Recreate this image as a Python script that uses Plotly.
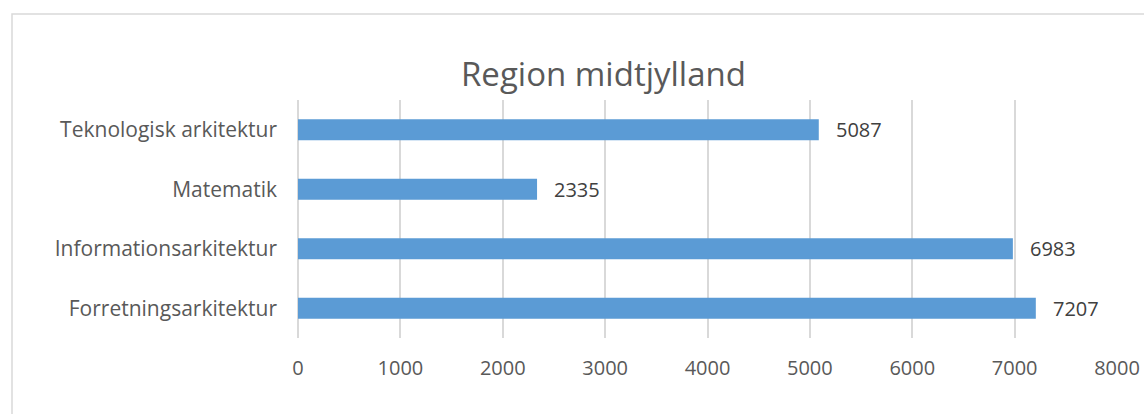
import plotly.graph_objects as go

categories = ["Forretningsarkitektur", "Informationsarkitektur", "Matematik", "Teknologisk arkitektur"]
values = [7207, 6983, 2335, 5087]
x_ticks = [0, 1000, 2000, 3000, 4000, 5000, 6000, 7000, 8000]
title_text = "Region midtjylland"

FONT = "Open Sans"
fig = go.Figure()
fig.add_trace(go.Bar(
    x=values, y=categories, orientation="h",
    marker=dict(color="#5b9bd5", line=dict(color="#5b9bd5", width=0)),
    width=0.35, hoverinfo="skip",
))
for c, v in zip(categories, values):
    fig.add_annotation(x=v, y=c, text=str(v), showarrow=False, xanchor="left",
                       xshift=15, font=dict(family=FONT, size=20, color="#404040"))

fig.add_annotation(xref="paper", yref="paper", x=(603-298)/819, y=1+(100-74)/238,
                   text=title_text, showarrow=False, xanchor="center", yanchor="middle",
                   font=dict(family=FONT, size=33, color="#595959"))

fig.add_shape(type="rect", xref="paper", yref="paper",
              x0=(12-298)/819, x1=1.3, y0=-0.6, y1=1+86/238,
              line=dict(color="#d9d9d9", width=1.5), layer="below")

fig.update_layout(
    width=1144, height=414,
    margin=dict(l=298, r=27, t=100, b=76),
    paper_bgcolor="white", plot_bgcolor="white",
    showlegend=False,
    font=dict(family=FONT, color="#595959"),
    xaxis=dict(range=[0, 8000], tickvals=x_ticks, showgrid=True, gridcolor="#d9d9d9",
               gridwidth=1.5, zeroline=True, zerolinecolor="#d9d9d9", zerolinewidth=1.5,
               showline=False, ticks="", tickfont=dict(family=FONT, size=20, color="#595959"),
               ticklabelstandoff=16, automargin=False, fixedrange=True),
    yaxis=dict(categoryorder="array", categoryarray=categories, showgrid=False,
               showline=False, ticks="", zeroline=False,
               tickfont=dict(family=FONT, size=21, color="#595959"),
               ticklabelstandoff=20, automargin=False, fixedrange=True),
)
fig.write_html("out.html", config={"displayModeBar": False},
               post_script="document.body.style.margin='0';document.body.style.overflow='hidden';")
